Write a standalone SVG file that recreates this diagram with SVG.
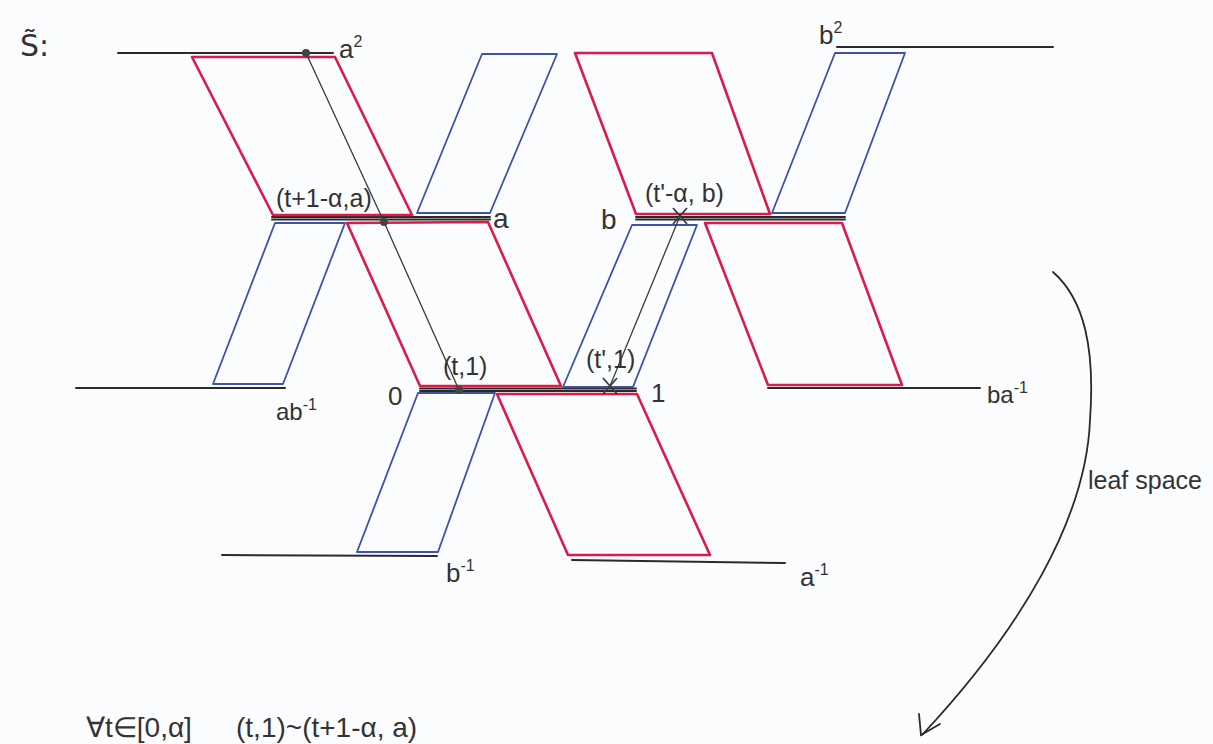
<svg xmlns="http://www.w3.org/2000/svg" width="1213" height="744" viewBox="0 0 1213 744">
<style>
.red{fill:none;stroke:#d91c4a;stroke-width:2.6;stroke-linejoin:round}
.blue{fill:none;stroke:#3d52a8;stroke-width:1.8;stroke-linejoin:round}
.blk{fill:none;stroke:#2a2a2a;stroke-width:2;stroke-linecap:round}
.thin{fill:none;stroke:#3a3a3a;stroke-width:1.3}
.lbl{font-family:"Liberation Sans",sans-serif;font-size:26px;fill:#333}
.sm{font-size:24px}
.sup{font-size:16px}
.dot{fill:#444}
</style>
<rect width="1213" height="744" fill="#fbfcfe"/>
<g id="sheets">
<line class="blk" x1="118" y1="53" x2="333" y2="53"/>
<line class="blk" x1="837" y1="47" x2="1053" y2="47"/>
<line class="blk" x1="272" y1="217" x2="490" y2="217"/>
<line class="blk" x1="272" y1="219.5" x2="490" y2="219.5"/>
<line class="blk" x1="636" y1="217" x2="845" y2="217"/>
<line class="blk" x1="636" y1="219.5" x2="845" y2="219.5"/>
<line class="blk" x1="76" y1="388" x2="285" y2="388"/>
<line class="blk" x1="420" y1="388.5" x2="636" y2="388.5"/>
<line class="blk" x1="420" y1="391" x2="636" y2="391"/>
<line class="blk" x1="768" y1="388" x2="980" y2="388"/>
<line class="blk" x1="222" y1="555" x2="437" y2="556"/>
<line class="blk" x1="572" y1="560" x2="785" y2="563"/>
</g>
<g id="p-red-topleft"><polygon class="red" points="192,57 335,57 412,215 273,215"/></g>
<g id="p-blue-topmid"><polygon class="blue" points="482,54 557,54 490,213 417,213"/></g>
<g id="p-red-topright"><polygon class="red" points="575,53 712,53 770,214 636,214"/></g>
<g id="p-blue-topright"><polygon class="blue" points="835,53 905,53 845,213 772,213"/></g>
<g id="p-blue-midleft"><polygon class="blue" points="275,223 345,223 283,384 213,384"/></g>
<g id="p-red-midleft"><polygon class="red" points="347,223 488,222 561,386 420,386"/></g>
<g id="p-blue-midright"><polygon class="blue" points="632,225 697,225 633,387 563,387"/></g>
<g id="p-red-midright"><polygon class="red" points="705,223 842,223 902,385 768,385"/></g>
<g id="p-blue-botleft"><polygon class="blue" points="418,393 495,393 438,552 357,552"/></g>
<g id="p-red-botright"><polygon class="red" points="497,394 637,394 710,555 568,555"/></g>
<g id="connectors">
<line class="thin" x1="306" y1="53" x2="384" y2="222"/>
<line class="thin" x1="384" y1="222" x2="459" y2="390"/>
<line class="thin" x1="680" y1="216" x2="610" y2="386"/>
<circle class="dot" cx="306" cy="53" r="4"/>
<circle class="dot" cx="384" cy="222" r="4"/>
<circle class="dot" cx="459" cy="390" r="4"/>
<path class="thin" d="M673,208 L687,224 M687,208 L673,224" style="stroke-width:1.8"/>
<path class="thin" d="M603,378 L617,394 M617,378 L603,394" style="stroke-width:1.8"/>
<path class="blk" style="stroke-width:1.8" d="M1053,272 C1085,300 1095,350 1090,420 C1086,520 1020,630 922,735"/>
<path class="blk" style="stroke-width:1.8" d="M919,714 L921,735 L940,724"/>
</g>
<g id="labels">
<text class="lbl" x="20" y="56" style="font-family:'DejaVu Sans',sans-serif;font-size:30px">S̃:</text>
<text class="lbl" x="339" y="58">a<tspan class="sup" dy="-11">2</tspan></text>
<text class="lbl" x="819" y="44">b<tspan class="sup" dy="-11">2</tspan></text>
<text class="lbl" x="276" y="207" style="font-size:25px">(t+1-α,a)</text>
<text class="lbl" x="493" y="228" style="font-size:28px">a</text>
<text class="lbl" x="601" y="229" style="font-size:28px">b</text>
<text class="lbl" x="645" y="202" style="font-size:25px">(t'-α, b)</text>
<text class="lbl sm" x="276" y="420">ab<tspan class="sup" dy="-10">-1</tspan></text>
<text class="lbl" x="388" y="405">0</text>
<text class="lbl" x="651" y="402">1</text>
<text class="lbl" x="443" y="375" style="font-size:25px">(t,1)</text>
<text class="lbl" x="586" y="368" style="font-size:25px">(t',1)</text>
<text class="lbl sm" x="987" y="403">ba<tspan class="sup" dy="-10">-1</tspan></text>
<text class="lbl" x="446" y="582">b<tspan class="sup" dy="-11">-1</tspan></text>
<text class="lbl" x="800" y="586">a<tspan class="sup" dy="-11">-1</tspan></text>
<text class="lbl" x="1088" y="489" style="font-size:25px">leaf space</text>
<text class="lbl" x="86" y="737" style="font-size:28px">∀t∈[0,α]</text>
<text class="lbl" x="236" y="737" style="font-size:28px">(t,1)~(t+1-α, a)</text>
</g>
</svg>
